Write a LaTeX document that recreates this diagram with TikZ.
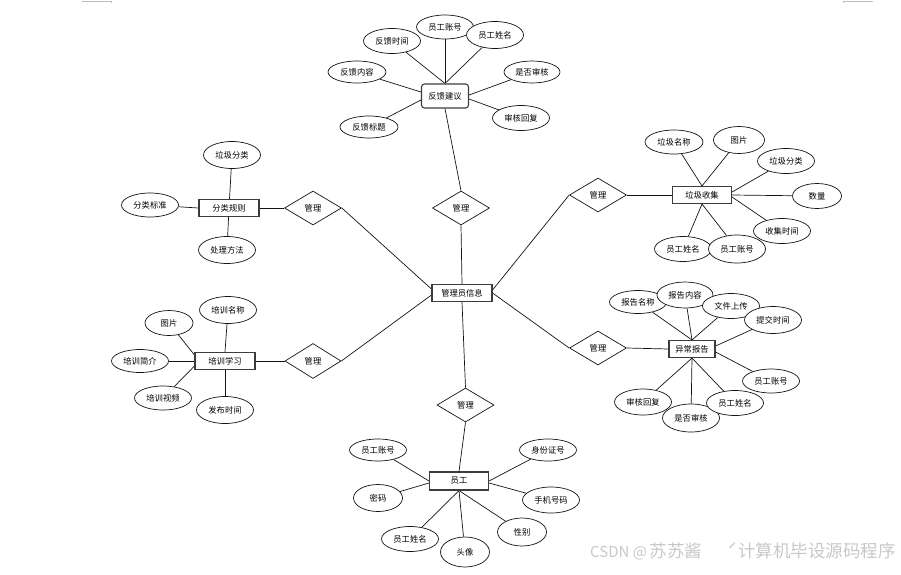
\documentclass[tikz,border=0pt]{standalone}
\usepackage{fontspec}
\setmainfont{Noto Sans CJK SC}
\usetikzlibrary{shapes.geometric,backgrounds}
\definecolor{cLine}{RGB}{20,20,20}
\definecolor{cFrame}{RGB}{60,60,60}
\definecolor{cMark}{RGB}{190,190,190}
\definecolor{cWater}{RGB}{200,200,200}
\tikzset{
	ent/.style={draw=cFrame, line width=1.1pt, fill=white, minimum width=60pt,
		minimum height=17pt, inner sep=0pt, font=\fontsize{8.3}{9}\selectfont},
	attr/.style={ellipse, draw=cLine, line width=0.7pt, fill=white,
		minimum width=57pt, minimum height=25pt, inner sep=0pt,
		font=\fontsize{8.3}{9}\selectfont},
	rel/.style={diamond, draw=cLine, line width=0.7pt, fill=white,
		minimum width=57pt, minimum height=34pt, inner sep=0pt,
		font=\fontsize{8.3}{9}\selectfont},
	eline/.style={draw=cLine, line width=0.7pt},
}

\begin{document}
\begin{tikzpicture}[x=1pt, y=-1pt]
	\useasboundingbox (0,0) rectangle (901,574);
	\draw[cMark, line width=0.8pt] (82,1) -- (111,1) -- (111,3);
	\draw[cMark, line width=0.8pt] (873,1) -- (843,1) -- (843,3);
	% centre
	\node[ent] (admin) at (462,293) {管理员信息};
	% feedback
	\node[ent, rounded corners=3pt, minimum width=47pt, minimum height=24pt] (fb) at (445,96) {反馈建议};
	\node[rel] (mFb) at (461,208) {管理};
	\node[attr, minimum height=24pt] (fbNo) at (445,27) {员工账号};
	\node[attr] (fbTime) at (392,41) {反馈时间};
	\node[attr, minimum height=27pt] (fbName) at (495,35) {员工姓名};
	\node[attr, minimum width=58pt, minimum height=22pt] (fbText) at (357,72) {反馈内容};
	\node[attr, minimum width=56pt, minimum height=22pt] (fbCheck) at (532,72) {是否审核};
	\node[attr] (fbReply) at (521,118) {审核回复};
	\node[attr, minimum width=58pt, minimum height=22pt] (fbTitle) at (369,127) {反馈标题};
	% rules
	\node[ent] (rule) at (229,208) {分类规则};
	\node[rel] (mRule) at (313,208) {管理};
	\node[attr, minimum height=27pt] (ruleType) at (232,155) {垃圾分类};
	\node[attr, minimum height=24pt] (ruleStd) at (150,205) {分类标准};
	\node[attr, minimum height=27pt] (ruleWay) at (227,250) {处理方法};
	% collection
	\node[ent, minimum width=59pt] (col) at (702,195) {垃圾收集};
	\node[rel] (mCol) at (598,195) {管理};
	\node[attr, minimum width=58pt, minimum height=24pt] (colName) at (674,142) {垃圾名称};
	\node[attr, minimum width=51pt, minimum height=27pt] (colPic) at (739,140) {图片};
	\node[attr] (colType) at (786,161) {垃圾分类};
	\node[attr, minimum width=49pt] (colNum) at (817,196) {数量};
	\node[attr] (colTime) at (782,231) {收集时间};
	\node[attr] (colEmp) at (683,249) {员工姓名};
	\node[attr, minimum height=28pt] (colNo) at (737,249) {员工账号};
	% training
	\node[ent] (train) at (225,361) {培训学习};
	\node[rel, minimum width=56pt, minimum height=35pt] (mTrain) at (313,361) {管理};
	\node[attr, minimum width=48pt] (trPic) at (169,323) {图片};
	\node[attr, minimum height=27pt] (trName) at (228,310) {培训名称};
	\node[attr, minimum height=23pt] (trIntro) at (140,361) {培训简介};
	\node[attr, minimum height=24pt] (trVideo) at (163,398) {培训视频};
	\node[attr, minimum height=27pt] (trTime) at (225,410) {发布时间};
	% reports
	\node[ent, minimum width=46pt] (rep) at (692,349) {异常报告};
	\node[rel] (mRep) at (598,348) {管理};
	\node[attr, minimum height=23pt] (repName) at (638,302) {报告名称};
	\node[attr, minimum width=56pt, minimum height=26pt] (repText) at (685,295) {报告内容};
	\node[attr] (repFile) at (731,306) {文件上传};
	\node[attr, minimum height=27pt] (repTime) at (773,320) {提交时间};
	\node[attr, minimum height=26pt] (repReply) at (643,402) {审核回复};
	\node[attr, minimum height=28pt] (repCheck) at (691,418) {是否审核};
	\node[attr] (repEmp) at (735,403) {员工姓名};
	\node[attr, minimum height=24pt] (repNo) at (771,381) {员工账号};
	% staff
	\node[ent, minimum width=59pt, minimum height=18pt] (staff) at (459,481) {员工};
	\node[rel] (mStaff) at (465.5,405) {管理};
	\node[attr, minimum height=22pt] (stNo) at (378,450) {员工账号};
	\node[attr, minimum width=49pt, minimum height=27pt] (stPwd) at (378,498) {密码};
	\node[attr] (stName) at (410,539) {员工姓名};
	\node[attr, minimum width=49pt, minimum height=30pt] (stHead) at (465,552) {头像};
	\node[attr, minimum width=49pt, minimum height=28pt] (stSex) at (522,532) {性别};
	\node[attr, minimum height=22pt] (stId) at (548,450) {身份证号};
	\node[attr, minimum height=26pt] (stTel) at (551,500) {手机号码};
	\begin{scope}[on background layer]
		\draw[eline] (admin.north) -- (mFb.south);
		\draw[eline] (mFb.north) -- (fb.south);
		\draw[eline] (fbNo) -- (fb.north);
		\draw[eline] (fbTime) -- (fb.north);
		\draw[eline] (fbName) -- (fb.north);
		\draw[eline] (fbText) -- ([yshift=4pt]fb.west);
		\draw[eline] (fbTitle) -- ([yshift=-4pt]fb.west);
		\draw[eline] (fbCheck) -- ([yshift=1pt]fb.east);
		\draw[eline] (fbReply) -- ([yshift=-3pt]fb.east);
		\draw[eline] (ruleType) -- (rule);
		\draw[eline] (ruleStd) -- (rule.west);
		\draw[eline] (ruleWay) -- (rule);
		\draw[eline] (rule.east) -- (mRule.west);
		\draw[eline] (mRule.east) -- ([yshift=4pt]admin.west);
		\draw[eline] (colName) -- (col.north);
		\draw[eline] (colPic) -- (col.north);
		\draw[eline] (colType) -- ([yshift=3pt]col.east);
		\draw[eline] (colNum) -- (col.east);
		\draw[eline] (colTime) -- ([yshift=-2pt]col.east);
		\draw[eline] (colEmp) -- (col.south);
		\draw[eline] (colNo) -- (col.south);
		\draw[eline] (mCol.east) -- (col.west);
		\draw[eline] (mCol.west) -- ([yshift=3pt]admin.east);
		\draw[eline] (trPic) -- ([yshift=6pt]train.west);
		\draw[eline] (trName) -- (train.north);
		\draw[eline] (trIntro) -- (train.west);
		\draw[eline] (trVideo) -- ([yshift=-5pt]train.west);
		\draw[eline] (trTime) -- (train.south);
		\draw[eline] (train.east) -- (mTrain.west);
		\draw[eline] (mTrain.east) -- ([yshift=-2pt]admin.west);
		\draw[eline] (repName) -- (rep.north);
		\draw[eline] (repText) -- (rep.north);
		\draw[eline] (repFile) -- (rep.north);
		\draw[eline] (repTime) -- ([yshift=3pt]rep.east);
		\draw[eline] (repNo) -- ([yshift=-3pt]rep.east);
		\draw[eline] (repEmp) -- (rep.south);
		\draw[eline] (repCheck) -- (rep.south);
		\draw[eline] (repReply) -- (rep.south);
		\draw[eline] (mRep.east) -- (rep.west);
		\draw[eline] (mRep.west) -- (admin.east);
		\draw[eline] (admin.south) -- (mStaff.north);
		\draw[eline] (mStaff.south) -- (staff.north);
		\draw[eline] (stNo) -- (staff.west);
		\draw[eline] (stPwd) -- ([yshift=-2pt]staff.west);
		\draw[eline] (stName) -- (staff.south);
		\draw[eline] (stHead) -- (staff.south);
		\draw[eline] (stSex) -- (staff.south);
		\draw[eline] (stId) -- (staff.east);
		\draw[eline] (stTel) -- ([yshift=-2pt]staff.east);
	\end{scope}
	% watermark
	\node[anchor=west, text=cWater, inner sep=0pt, font=\fontsize{15}{16}\selectfont] (wmA) at (590,551) {CSDN @\,{\fontsize{17.5}{18}\selectfont 苏苏酱}};
	\node[anchor=east, text=cWater, inner sep=0pt, font=\fontsize{17.5}{18}\selectfont] (wmB) at (896,551) {ˊ计算机毕设源码程序};
\end{tikzpicture}
\end{document}
